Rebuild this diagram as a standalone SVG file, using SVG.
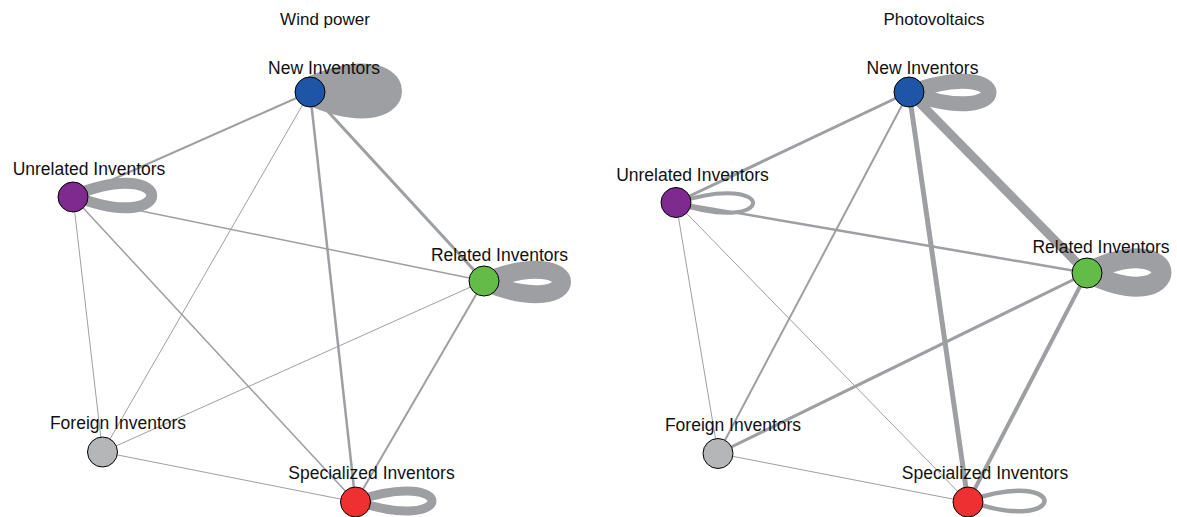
<svg xmlns="http://www.w3.org/2000/svg" width="1177" height="517" viewBox="0 0 1177 517">
<style>
.e{stroke:#9d9fa2;fill:none;stroke-linecap:butt}
.lp{stroke:#9d9fa2;fill:none;stroke-linejoin:round}
.n{stroke:#000;stroke-width:1}
.lbl{font-family:"Liberation Sans",Arial,sans-serif;font-size:17.5px;fill:#111;text-anchor:middle}
.ttl{font-family:"Liberation Sans",Arial,sans-serif;font-size:17px;fill:#111;text-anchor:middle}
</style>
<rect width="1177" height="517" fill="#fff"/>
<text class="ttl" x="325" y="25">Wind power</text>
<text class="ttl" x="934" y="25">Photovoltaics</text>
<g id="connectors">
<!-- Wind power edges -->
<line class="e" x1="310" y1="92" x2="73" y2="197" stroke-width="2"/>
<line class="e" x1="310" y1="92" x2="102.5" y2="452" stroke-width="1"/>
<line class="e" x1="310" y1="92" x2="355.5" y2="502" stroke-width="2.5"/>
<line class="e" x1="310" y1="92" x2="484" y2="281" stroke-width="3"/>
<line class="e" x1="73" y1="197" x2="484" y2="281" stroke-width="1.5"/>
<line class="e" x1="73" y1="197" x2="102.5" y2="452" stroke-width="1"/>
<line class="e" x1="73" y1="197" x2="355.5" y2="502" stroke-width="1.5"/>
<line class="e" x1="484" y1="281" x2="102.5" y2="452" stroke-width="1"/>
<line class="e" x1="484" y1="281" x2="355.5" y2="502" stroke-width="2"/>
<line class="e" x1="102.5" y1="452" x2="355.5" y2="502" stroke-width="1"/>
<!-- Wind power self loops -->
<path class="lp" stroke-width="28" d="M310,91 C414,44.3 414,137.7 310,91"/>
<path class="lp" stroke-width="11" d="M73,195.5 C178,152.9 178,238.1 73,195.5"/>
<path class="lp" stroke-width="18" d="M484,282 C588,239.8 588,324.2 484,282"/>
<path class="lp" stroke-width="9" d="M355.5,501 C457.5,466.4 457.5,535.6 355.5,501"/>
<!-- Photovoltaics edges -->
<line class="e" x1="909" y1="92" x2="676" y2="202.5" stroke-width="3"/>
<line class="e" x1="909" y1="92" x2="718" y2="453.5" stroke-width="2"/>
<line class="e" x1="909" y1="92" x2="968" y2="502" stroke-width="5"/>
<line class="e" x1="909" y1="92" x2="1087" y2="273" stroke-width="9"/>
<line class="e" x1="676" y1="202.5" x2="1087" y2="273" stroke-width="2.5"/>
<line class="e" x1="676" y1="202.5" x2="718" y2="453.5" stroke-width="1"/>
<line class="e" x1="676" y1="202.5" x2="968" y2="502" stroke-width="1"/>
<line class="e" x1="1087" y1="273" x2="718" y2="453.5" stroke-width="3"/>
<line class="e" x1="1087" y1="273" x2="968" y2="502" stroke-width="4"/>
<line class="e" x1="718" y1="453.5" x2="968" y2="502" stroke-width="1"/>
<!-- Photovoltaics self loops -->
<path class="lp" stroke-width="15" d="M909,92.5 C1015.7,53.5 1015.7,131.5 909,92.5"/>
<path class="lp" stroke-width="4" d="M676,203 C778.7,169.4 778.7,236.6 676,203"/>
<path class="lp" stroke-width="20" d="M1087,272.5 C1186.3,223.5 1186.3,321.5 1087,272.5"/>
<path class="lp" stroke-width="4.5" d="M968,501 C1070,465.5 1070,536.5 968,501"/>
</g>
<g id="wind-new"><circle class="n" cx="310" cy="92" r="15" fill="#1f55a6"/><text class="lbl" x="324" y="74">New Inventors</text></g>
<g id="wind-unrelated"><circle class="n" cx="73" cy="197" r="15" fill="#7f2a8f"/><text class="lbl" x="89" y="175">Unrelated Inventors</text></g>
<g id="wind-related"><circle class="n" cx="484" cy="281" r="15" fill="#62bc47"/><text class="lbl" x="499.5" y="261">Related Inventors</text></g>
<g id="wind-foreign"><circle class="n" cx="102.5" cy="452" r="15" fill="#b4b6b7"/><text class="lbl" x="118" y="429">Foreign Inventors</text></g>
<g id="wind-specialized"><circle class="n" cx="355.5" cy="502" r="15" fill="#ee3130"/><text class="lbl" x="371.5" y="479">Specialized Inventors</text></g>
<g id="pv-new"><circle class="n" cx="909" cy="92" r="15" fill="#1f55a6"/><text class="lbl" x="922.5" y="74">New Inventors</text></g>
<g id="pv-unrelated"><circle class="n" cx="676" cy="202.5" r="15" fill="#7f2a8f"/><text class="lbl" x="692.5" y="181">Unrelated Inventors</text></g>
<g id="pv-related"><circle class="n" cx="1087" cy="273" r="15" fill="#62bc47"/><text class="lbl" x="1101" y="253">Related Inventors</text></g>
<g id="pv-foreign"><circle class="n" cx="718" cy="453.5" r="15" fill="#b4b6b7"/><text class="lbl" x="733" y="431">Foreign Inventors</text></g>
<g id="pv-specialized"><circle class="n" cx="968" cy="502" r="15" fill="#ee3130"/><text class="lbl" x="985" y="479">Specialized Inventors</text></g>
</svg>
